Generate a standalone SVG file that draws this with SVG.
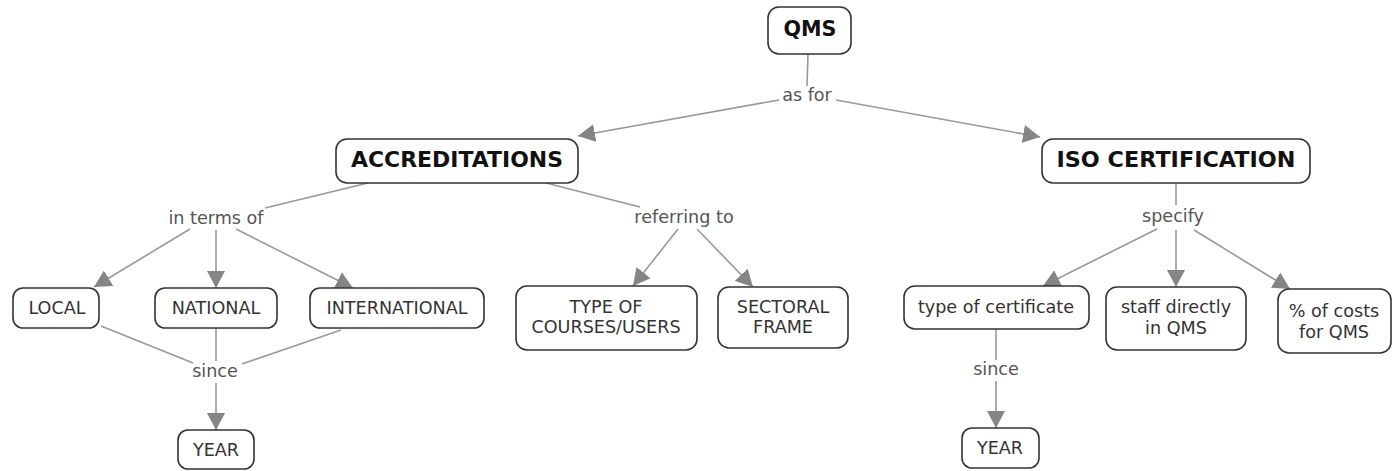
<svg xmlns="http://www.w3.org/2000/svg" width="1393" height="471" viewBox="0 0 1393 471">
  <defs>
    <marker id="arrow" markerUnits="userSpaceOnUse" markerWidth="18" markerHeight="18" refX="17" refY="9" orient="auto">
      <path d="M0,0 L17,9 L0,18 z" fill="#858585"/>
    </marker>
    <style>
      .box { fill: #ffffff; stroke: #333333; stroke-width: 1.6; }
      .t { font-family: "DejaVu Sans", Verdana, sans-serif; font-size: 17.6px; fill: #333333; text-anchor: middle; }
      .b { font-family: "DejaVu Sans", Verdana, sans-serif; font-size: 20.5px; font-weight: bold; fill: #111111; text-anchor: middle; }
      .lbl { font-family: "DejaVu Sans", Verdana, sans-serif; font-size: 17.6px; fill: #555555; text-anchor: middle; }
      .ln { stroke: #999999; stroke-width: 1.6; fill: none; }
      .ar { stroke: #999999; stroke-width: 1.6; fill: none; marker-end: url(#arrow); }
    </style>
  </defs>
  <rect width="1393" height="471" fill="#ffffff"/>

  <g id="connectors">
    <!-- QMS as for -->
    <line class="ln" x1="808" y1="54" x2="807" y2="86"/>
    <line class="ar" x1="779" y1="100" x2="578" y2="136"/>
    <line class="ar" x1="836" y1="100" x2="1040" y2="137"/>
    <!-- ACCREDITATIONS in terms of -->
    <line class="ln" x1="368" y1="183" x2="265" y2="208"/>
    <line class="ar" x1="190" y1="229" x2="94" y2="287"/>
    <line class="ar" x1="216" y1="230" x2="216" y2="288"/>
    <line class="ar" x1="236" y1="229" x2="353" y2="288"/>
    <!-- ACCREDITATIONS referring to -->
    <line class="ln" x1="546" y1="183" x2="640" y2="207"/>
    <line class="ar" x1="678" y1="229" x2="633" y2="286"/>
    <line class="ar" x1="697" y1="229" x2="753" y2="287"/>
    <!-- ISO CERTIFICATION specify -->
    <line class="ln" x1="1176" y1="183" x2="1176" y2="205"/>
    <line class="ar" x1="1157" y1="229" x2="1043" y2="286"/>
    <line class="ar" x1="1176" y1="230" x2="1176" y2="287"/>
    <line class="ar" x1="1194" y1="230" x2="1290" y2="289"/>
    <!-- type of certificate since YEAR -->
    <line class="ln" x1="996" y1="329" x2="996" y2="360"/>
    <line class="ar" x1="996" y1="381" x2="996" y2="428"/>
    <!-- LOCAL / NATIONAL / INTERNATIONAL since YEAR -->
    <line class="ln" x1="101" y1="326" x2="193" y2="363"/>
    <line class="ln" x1="216" y1="328" x2="216" y2="361"/>
    <line class="ln" x1="341" y1="330" x2="242" y2="364"/>
    <line class="ar" x1="216" y1="383" x2="216" y2="430"/>
  </g>

  <g id="labels">
    <text class="lbl" x="807" y="101">as for</text>
    <text class="lbl" x="216" y="224">in terms of</text>
    <text class="lbl" x="684" y="223">referring to</text>
    <text class="lbl" x="1173" y="222">specify</text>
    <text class="lbl" x="215" y="377">since</text>
    <text class="lbl" x="996" y="375">since</text>
  </g>

  <g id="qms">
    <rect class="box" x="768" y="7" width="83" height="47" rx="11"/>
    <text class="b" x="810" y="36" textLength="53" lengthAdjust="spacingAndGlyphs">QMS</text>
  </g>
  <g id="accreditations">
    <rect class="box" x="336" y="139" width="242" height="44" rx="11"/>
    <text class="b" x="457" y="167" textLength="212" lengthAdjust="spacingAndGlyphs">ACCREDITATIONS</text>
  </g>
  <g id="iso-certification">
    <rect class="box" x="1042" y="139" width="268" height="44" rx="11"/>
    <text class="b" x="1176" y="167" textLength="239" lengthAdjust="spacingAndGlyphs">ISO CERTIFICATION</text>
  </g>
  <g id="local">
    <rect class="box" x="13" y="288" width="86" height="40" rx="10"/>
    <text class="t" x="57" y="314">LOCAL</text>
  </g>
  <g id="national">
    <rect class="box" x="155" y="288" width="122" height="40" rx="10"/>
    <text class="t" x="216" y="314">NATIONAL</text>
  </g>
  <g id="international">
    <rect class="box" x="310" y="288" width="174" height="40" rx="10"/>
    <text class="t" x="397" y="314">INTERNATIONAL</text>
  </g>
  <g id="year-left">
    <rect class="box" x="178" y="430" width="76" height="39" rx="10"/>
    <text class="t" x="216" y="456">YEAR</text>
  </g>
  <g id="type-of-courses">
    <rect class="box" x="516" y="286" width="181" height="64" rx="11"/>
    <text class="t" x="606" y="313">TYPE OF</text>
    <text class="t" x="606" y="333">COURSES/USERS</text>
  </g>
  <g id="sectoral-frame">
    <rect class="box" x="718" y="287" width="130" height="61" rx="11"/>
    <text class="t" x="783" y="313">SECTORAL</text>
    <text class="t" x="783" y="333">FRAME</text>
  </g>
  <g id="type-of-certificate">
    <rect class="box" x="904" y="286" width="185" height="43" rx="11"/>
    <text class="t" x="996" y="313">type of certificate</text>
  </g>
  <g id="staff-directly">
    <rect class="box" x="1106" y="287" width="140" height="63" rx="11"/>
    <text class="t" x="1176" y="313">staff directly</text>
    <text class="t" x="1176" y="334">in QMS</text>
  </g>
  <g id="costs-for-qms">
    <rect class="box" x="1278" y="289" width="113" height="64" rx="11"/>
    <text class="t" x="1334" y="317">% of costs</text>
    <text class="t" x="1334" y="338">for QMS</text>
  </g>
  <g id="year-right">
    <rect class="box" x="962" y="428" width="77" height="40" rx="10"/>
    <text class="t" x="1000" y="454">YEAR</text>
  </g>
</svg>
